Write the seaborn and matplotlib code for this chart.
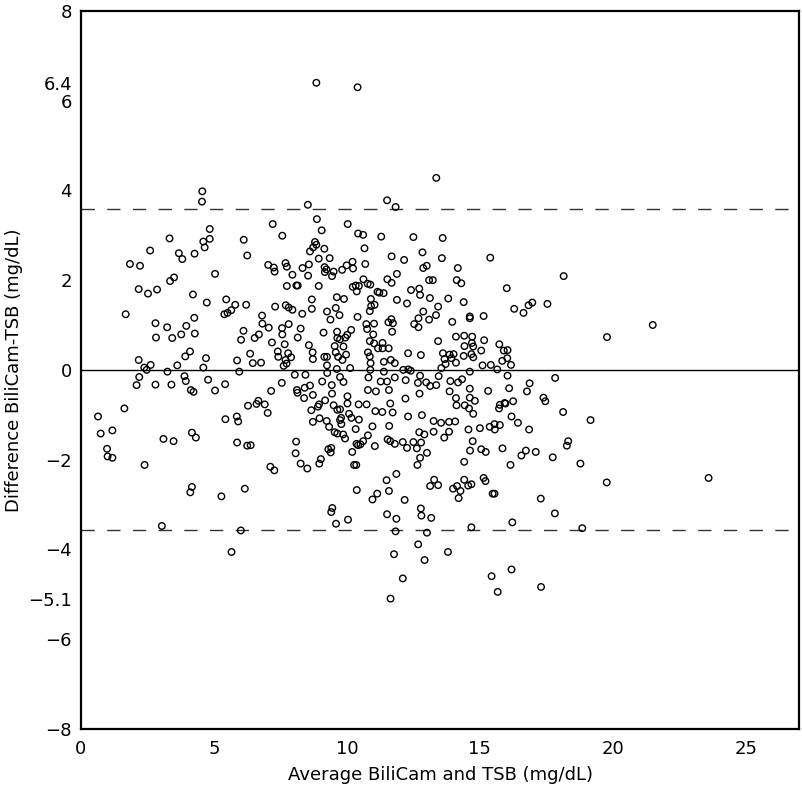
import pandas as pd
import matplotlib
matplotlib.use("Agg")
import matplotlib.pyplot as plt
import seaborn as sns

# Bland-Altman: BiliCam vs TSB
# average of the two methods (mg/dL), grouped by region of the plot
avg_upper_left = [4.56, 4.55, 7.21, 4.84, 7.57, 3.33, 6.12, 4.84, 4.60, 4.65,
                  2.60, 3.68, 4.27, 3.81, 6.25, 1.84, 2.22, 7.04, 7.25, 7.28,
                  7.69, 7.74, 7.95, 5.04, 3.35, 3.50, 7.74, 2.17, 2.52, 2.86,
                  4.21, 4.73, 5.46, 1.68, 5.80, 5.39, 5.51, 5.65, 6.21, 7.30,
                  7.70, 7.81, 7.95, 2.80, 3.24, 3.96, 4.26, 6.81, 6.82, 7.06,
                  7.56, 7.81, 2.82, 3.43, 3.77, 4.28, 6.11, 6.02, 6.53, 6.69,
                  7.18, 7.57, 7.66]
diff_upper_left = [3.98, 3.75, 3.25, 3.14, 2.99, 2.93, 2.90, 2.92, 2.86, 2.73,
                   2.66, 2.60, 2.59, 2.47, 2.55, 2.36, 2.32, 2.34, 2.28, 2.19,
                   2.38, 2.30, 2.12, 2.14, 1.98, 2.06, 1.87, 1.80, 1.70, 1.79,
                   1.68, 1.50, 1.57, 1.24, 1.45, 1.24, 1.27, 1.33, 1.45, 1.41,
                   1.44, 1.39, 1.34, 1.04, 0.95, 0.98, 1.16, 1.21, 1.03, 0.94,
                   0.93, 1.02, 0.72, 0.71, 0.79, 0.81, 0.87, 0.67, 0.71, 0.79,
                   0.61, 0.79, 0.57]

avg_upper_mid = [13.36, 8.53, 11.51, 11.83, 8.87, 10.03, 9.05, 10.42, 10.61, 11.29,
                 12.50, 13.60, 8.80, 8.85, 8.73, 9.15, 8.61, 10.66, 12.84, 8.94,
                 9.35, 11.68, 12.15, 13.57, 15.39, 8.57, 8.33, 9.16, 9.23, 9.50,
                 9.17, 9.44, 8.54, 9.82, 9.99, 10.21, 10.23, 10.69, 12.87, 13.00,
                 14.17, 11.88, 11.52, 11.68, 10.62, 10.78, 10.88, 8.94, 8.10, 8.15,
                 10.22, 10.33, 10.45, 10.37, 13.09, 13.23, 14.13, 14.30, 12.41, 12.72,
                 12.75, 11.15, 11.22, 11.38, 9.62, 9.89, 8.68, 8.68, 11.88, 12.26,
                 13.12, 13.81, 14.39, 10.90, 10.91, 11.04, 10.86, 9.58, 9.25, 9.72,
                 9.38, 8.32, 10.40, 12.87, 13.43, 13.35, 12.69, 13.09, 12.53, 12.69,
                 11.67, 11.56, 11.73, 14.62, 14.62, 15.14, 13.96, 10.73, 11.02, 10.76,
                 10.16, 8.26, 9.12, 9.63, 8.15, 9.64, 9.74, 9.94, 10.01, 10.99,
                 11.70, 14.10, 14.41, 14.71, 15.16, 13.43, 10.86, 11.02, 11.34, 8.57,
                 9.54, 9.87, 14.70, 14.42, 14.75, 15.73, 11.17, 11.34, 11.57, 15.05,
                 8.85, 10.40]
diff_upper_mid = [4.28, 3.68, 3.78, 3.63, 3.36, 3.25, 3.11, 3.04, 3.01, 2.97,
                  2.96, 2.94, 2.85, 2.79, 2.73, 2.70, 2.64, 2.71, 2.62, 2.48,
                  2.49, 2.53, 2.45, 2.49, 2.50, 2.35, 2.27, 2.29, 2.24, 2.19,
                  2.18, 2.09, 2.10, 2.23, 2.33, 2.41, 2.26, 2.36, 2.27, 2.32,
                  2.27, 2.14, 2.02, 1.94, 2.02, 1.92, 1.90, 1.87, 1.88, 1.88,
                  1.85, 1.88, 1.87, 1.75, 2.00, 2.00, 2.00, 1.93, 1.78, 1.81,
                  1.67, 1.74, 1.72, 1.71, 1.62, 1.58, 1.57, 1.36, 1.56, 1.48,
                  1.60, 1.59, 1.51, 1.58, 1.42, 1.45, 1.31, 1.38, 1.30, 1.22,
                  1.12, 1.25, 1.18, 1.30, 1.41, 1.22, 1.15, 1.12, 1.02, 0.95,
                  1.13, 1.06, 1.04, 1.19, 1.15, 1.20, 1.07, 1.02, 1.03, 0.91,
                  0.89, 0.92, 0.83, 0.85, 0.72, 0.71, 0.68, 0.72, 0.78, 0.79,
                  0.85, 0.74, 0.76, 0.74, 0.66, 0.64, 0.64, 0.59, 0.60, 0.55,
                  0.53, 0.52, 0.60, 0.53, 0.52, 0.57, 0.48, 0.48, 0.48, 0.43,
                  6.40, 6.30]

avg_upper_right = [18.15, 16.01, 16.29, 16.64, 16.83, 16.97, 17.54, 21.50, 19.78, 15.90,
                   16.04]
diff_upper_right = [2.09, 1.82, 1.36, 1.27, 1.44, 1.50, 1.47, 1.00, 0.73, 0.43,
                    0.44]

avg_lower_left = [2.17, 2.38, 2.47, 2.62, 2.19, 2.09, 2.80, 3.25, 3.40, 3.62,
                  3.92, 4.10, 3.89, 3.94, 4.13, 4.23, 4.70, 4.60, 4.78, 5.04,
                  5.42, 5.87, 5.95, 6.36, 6.46, 6.77, 7.40, 7.42, 7.79, 7.90,
                  7.69, 7.62, 7.73, 7.55, 7.15, 6.28, 6.60, 6.67, 6.91, 7.02,
                  0.64, 1.63, 0.74, 1.18, 0.98, 1.00, 1.18, 2.39, 3.10, 3.48,
                  4.17, 4.32, 5.43, 5.86, 5.91, 5.87, 6.25, 6.38, 7.12, 7.27,
                  4.17, 4.11, 5.28, 6.16, 3.04, 6.01, 5.66]
diff_lower_left = [0.22, 0.05, 0.00, 0.11, -0.16, -0.34, -0.33, -0.04, -0.33, 0.10,
                   0.30, 0.41, -0.14, -0.25, -0.45, -0.49, 0.26, 0.05, -0.22, -0.46,
                   -0.32, 0.21, -0.04, 0.36, 0.15, 0.16, 0.41, 0.29, 0.37, 0.28,
                   0.22, 0.09, 0.14, -0.29, -0.47, -0.80, -0.76, -0.69, -0.77, -0.96,
                   -1.04, -0.86, -1.42, -1.35, -1.76, -1.93, -1.96, -2.12, -1.54, -1.59,
                   -1.40, -1.51, -1.10, -1.04, -1.15, -1.62, -1.69, -1.68, -2.16, -2.24,
                   -2.61, -2.73, -2.82, -2.65, -3.48, -3.58, -4.06]

avg_lower_mid = [8.71, 8.72, 9.15, 9.25, 9.58, 9.67, 9.83, 9.97, 10.79, 10.86,
                 10.89, 11.39, 11.65, 11.80, 12.30, 12.78, 13.61, 13.67, 13.86, 14.01,
                 14.10, 13.93, 14.39, 14.68, 14.75, 15.10, 15.41, 15.84, 15.65,
                 9.25, 9.62, 10.12, 10.88, 11.39, 12.12, 12.31, 12.40, 13.55, 13.71,
                 14.62, 8.04, 8.44, 9.26, 9.74, 10.81, 11.80, 12.21, 12.67, 12.75,
                 12.98, 13.13, 13.36, 13.45, 13.89, 14.18, 14.33, 9.07, 9.87, 11.27,
                 11.51,
                 8.12, 8.14, 8.41, 8.61, 8.39, 8.72, 9.43, 9.44, 10.79, 11.09,
                 11.58, 12.73, 13.86, 14.62, 15.31, 14.10, 14.62, 14.81, 12.20, 10.02,
                 9.18, 8.95, 8.91, 9.50, 10.02, 10.44, 10.74, 11.63, 14.12, 14.43,
                 14.59, 14.75, 15.75, 15.72,
                 8.66, 9.64, 9.74, 10.08, 10.17, 9.78, 9.74, 10.45, 11.07, 11.33,
                 11.72, 12.30, 12.82, 8.72, 8.97, 9.24, 9.33, 9.54, 9.64, 9.79,
                 10.33, 10.96, 11.59, 13.26, 13.54, 13.84, 14.07, 13.26, 13.84, 12.72,
                 12.91, 14.57, 15.00, 15.37, 15.55, 15.56, 15.75,
                 9.86, 9.93, 10.61, 10.36, 10.42, 10.51, 10.79, 11.53, 11.63, 11.80,
                 12.10, 12.50, 12.79, 12.26, 12.63, 12.75, 13.01, 12.65, 13.66, 14.73,
                 14.63, 15.05, 15.22, 15.85, 11.05, 8.09, 8.07, 8.26, 8.51, 8.96,
                 9.02, 9.30, 9.41, 9.39, 10.20, 10.27, 10.35, 14.41,
                 11.86, 11.49, 11.58, 11.14, 10.96, 12.17, 10.37, 13.28, 13.43, 13.13,
                 13.99, 14.14, 14.27, 14.20, 14.41, 14.56, 14.68, 15.14, 15.21, 15.48,
                 15.55, 9.45, 9.41, 9.59, 10.04, 11.51, 11.86, 12.78, 12.80, 13.17,
                 14.68, 11.83, 13.01,
                 12.68, 11.77, 13.80, 12.92, 12.10, 15.44, 15.67, 11.64]
diff_lower_mid = [0.39, 0.24, 0.29, 0.29, 0.39, 0.29, 0.22, 0.34, 0.39, 0.30,
                  0.15, 0.18, 0.22, 0.15, 0.37, 0.33, 0.37, 0.24, 0.34, 0.35,
                  0.16, 0.26, 0.31, 0.35, 0.28, 0.10, 0.11, 0.20, 0.01,
                  0.10, 0.02, 0.04, 0.00, -0.04, 0.00, 0.01, -0.02, 0.04, 0.13,
                  -0.04, -0.11, -0.11, -0.07, -0.16, -0.17, -0.17, -0.23, -0.29, -0.13,
                  -0.28, -0.36, -0.34, -0.14, -0.25, -0.28, -0.21, -0.26, -0.27, -0.26,
                  -0.26,
                  -0.45, -0.51, -0.40, -0.35, -0.63, -0.56, -0.34, -0.53, -0.45, -0.48,
                  -0.45, -0.53, -0.48, -0.42, -0.47, -0.63, -0.62, -0.69, -0.64, -0.59,
                  -0.68, -0.77, -0.82, -0.79, -0.75, -0.77, -0.77, -0.75, -0.79, -0.79,
                  -0.86, -0.98, -0.78, -0.86,
                  -0.90, -0.89, -0.88, -0.98, -1.07, -1.07, -1.12, -1.11, -0.92, -0.94,
                  -0.95, -1.04, -1.01, -1.16, -1.08, -1.14, -1.27, -1.39, -1.42, -1.21,
                  -1.32, -1.26, -1.25, -1.14, -1.18, -1.16, -1.15, -1.38, -1.38, -1.39,
                  -1.44, -1.33, -1.30, -1.27, -1.21, -1.33, -1.23,
                  -1.44, -1.53, -1.59, -1.65, -1.68, -1.66, -1.46, -1.55, -1.59, -1.65,
                  -1.61, -1.61, -1.62, -1.74, -1.75, -1.96, -1.85, -2.12, -1.51, -1.59,
                  -1.80, -1.77, -1.83, -1.75, -1.70, -1.60, -1.86, -2.09, -2.20, -2.09,
                  -1.99, -1.77, -1.74, -1.84, -1.83, -2.12, -2.12, -2.05,
                  -2.32, -2.46, -2.70, -2.76, -2.89, -2.90, -2.68, -2.45, -2.57, -2.59,
                  -2.65, -2.59, -2.70, -2.86, -2.45, -2.58, -2.55, -2.41, -2.48, -2.76,
                  -2.76, -3.08, -3.17, -3.43, -3.34, -3.22, -3.32, -3.09, -3.25, -3.30,
                  -3.51, -3.60, -3.63,
                  -3.89, -4.11, -4.06, -4.24, -4.65, -4.60, -4.95, -5.10]

avg_lower_right = [16.03, 16.17, 16.04, 17.83, 16.87, 16.10, 16.77, 17.39, 17.46, 15.93,
                   15.96, 16.25, 18.13, 19.16, 16.19, 16.43, 16.85, 18.32, 18.27, 16.73,
                   16.56, 17.10, 17.74, 16.15, 18.78, 19.77, 23.60, 17.29, 17.82, 16.22,
                   18.85, 16.19, 17.30]
diff_lower_right = [0.26, 0.11, -0.13, -0.18, -0.30, -0.41, -0.48, -0.62, -0.70, -0.74,
                    -0.75, -0.70, -0.94, -1.12, -1.04, -1.18, -1.33, -1.59, -1.69, -1.80,
                    -1.91, -1.83, -1.95, -2.12, -2.09, -2.51, -2.41, -2.87, -3.20, -3.40,
                    -3.53, -4.45, -4.84]

mean_diff = 0.0
upper_loa = 3.59
lower_loa = -3.58

xticks = [0, 5, 10, 15, 20, 25]
yticks = [-8, -6, -5.1, -4, -2, 0, 2, 4, 6, 6.4, 8]
ytick_labels = ['\u22128', '\u22126', '\u22125.1', '\u22124', '\u22122', '0',
                '2', '4', '6', '6.4', '8']

df = pd.DataFrame({
    'avg': avg_upper_left + avg_upper_mid + avg_upper_right
           + avg_lower_left + avg_lower_mid + avg_lower_right,
    'diff': diff_upper_left + diff_upper_mid + diff_upper_right
            + diff_lower_left + diff_lower_mid + diff_lower_right,
})

sns.set_style('white')
plt.rcParams['font.family'] = ['DejaVu Sans']
plt.rcParams['text.color'] = 'black'
plt.rcParams['axes.labelcolor'] = 'black'
plt.rcParams['xtick.color'] = 'black'
plt.rcParams['ytick.color'] = 'black'

fig = plt.figure(figsize=(8.02, 7.89), dpi=100)
ax = fig.add_axes([81 / 802, 60.3 / 789, 718 / 802, 717.7 / 789])

ax.axhline(mean_diff, color='black', lw=1.0, zorder=1)
ax.axhline(upper_loa, color='#333333', lw=1.0, dashes=(9.6, 8.9), zorder=1)
ax.axhline(lower_loa, color='#333333', lw=1.0, dashes=(9.6, 8.9), zorder=1)

sns.scatterplot(data=df, x='avg', y='diff', ax=ax, marker='o', s=22,
                facecolor='none', edgecolor='black', linewidth=1.0, zorder=3)

ax.set_xlim(0, 27)
ax.set_ylim(-8, 8)
ax.set_xticks(xticks)
ax.set_yticks(yticks)
ax.set_yticklabels(ytick_labels)

ax.tick_params(axis='both', direction='in', length=6.3, width=0.8,
               labelsize=13, top=False, right=False, color='black',
               labelcolor='black')
ax.tick_params(axis='x', pad=8)
ax.tick_params(axis='y', pad=6.5)

for sp in ax.spines.values():
    sp.set_linewidth(1.6)
    sp.set_color('black')

ax.set_xlabel('Average BiliCam and TSB (mg/dL)', fontsize=13, labelpad=6,
              color='black')
ax.set_ylabel('Difference BiliCam-TSB (mg/dL)', fontsize=13, labelpad=4,
              color='black')

fig.savefig('out.png', dpi=100)
